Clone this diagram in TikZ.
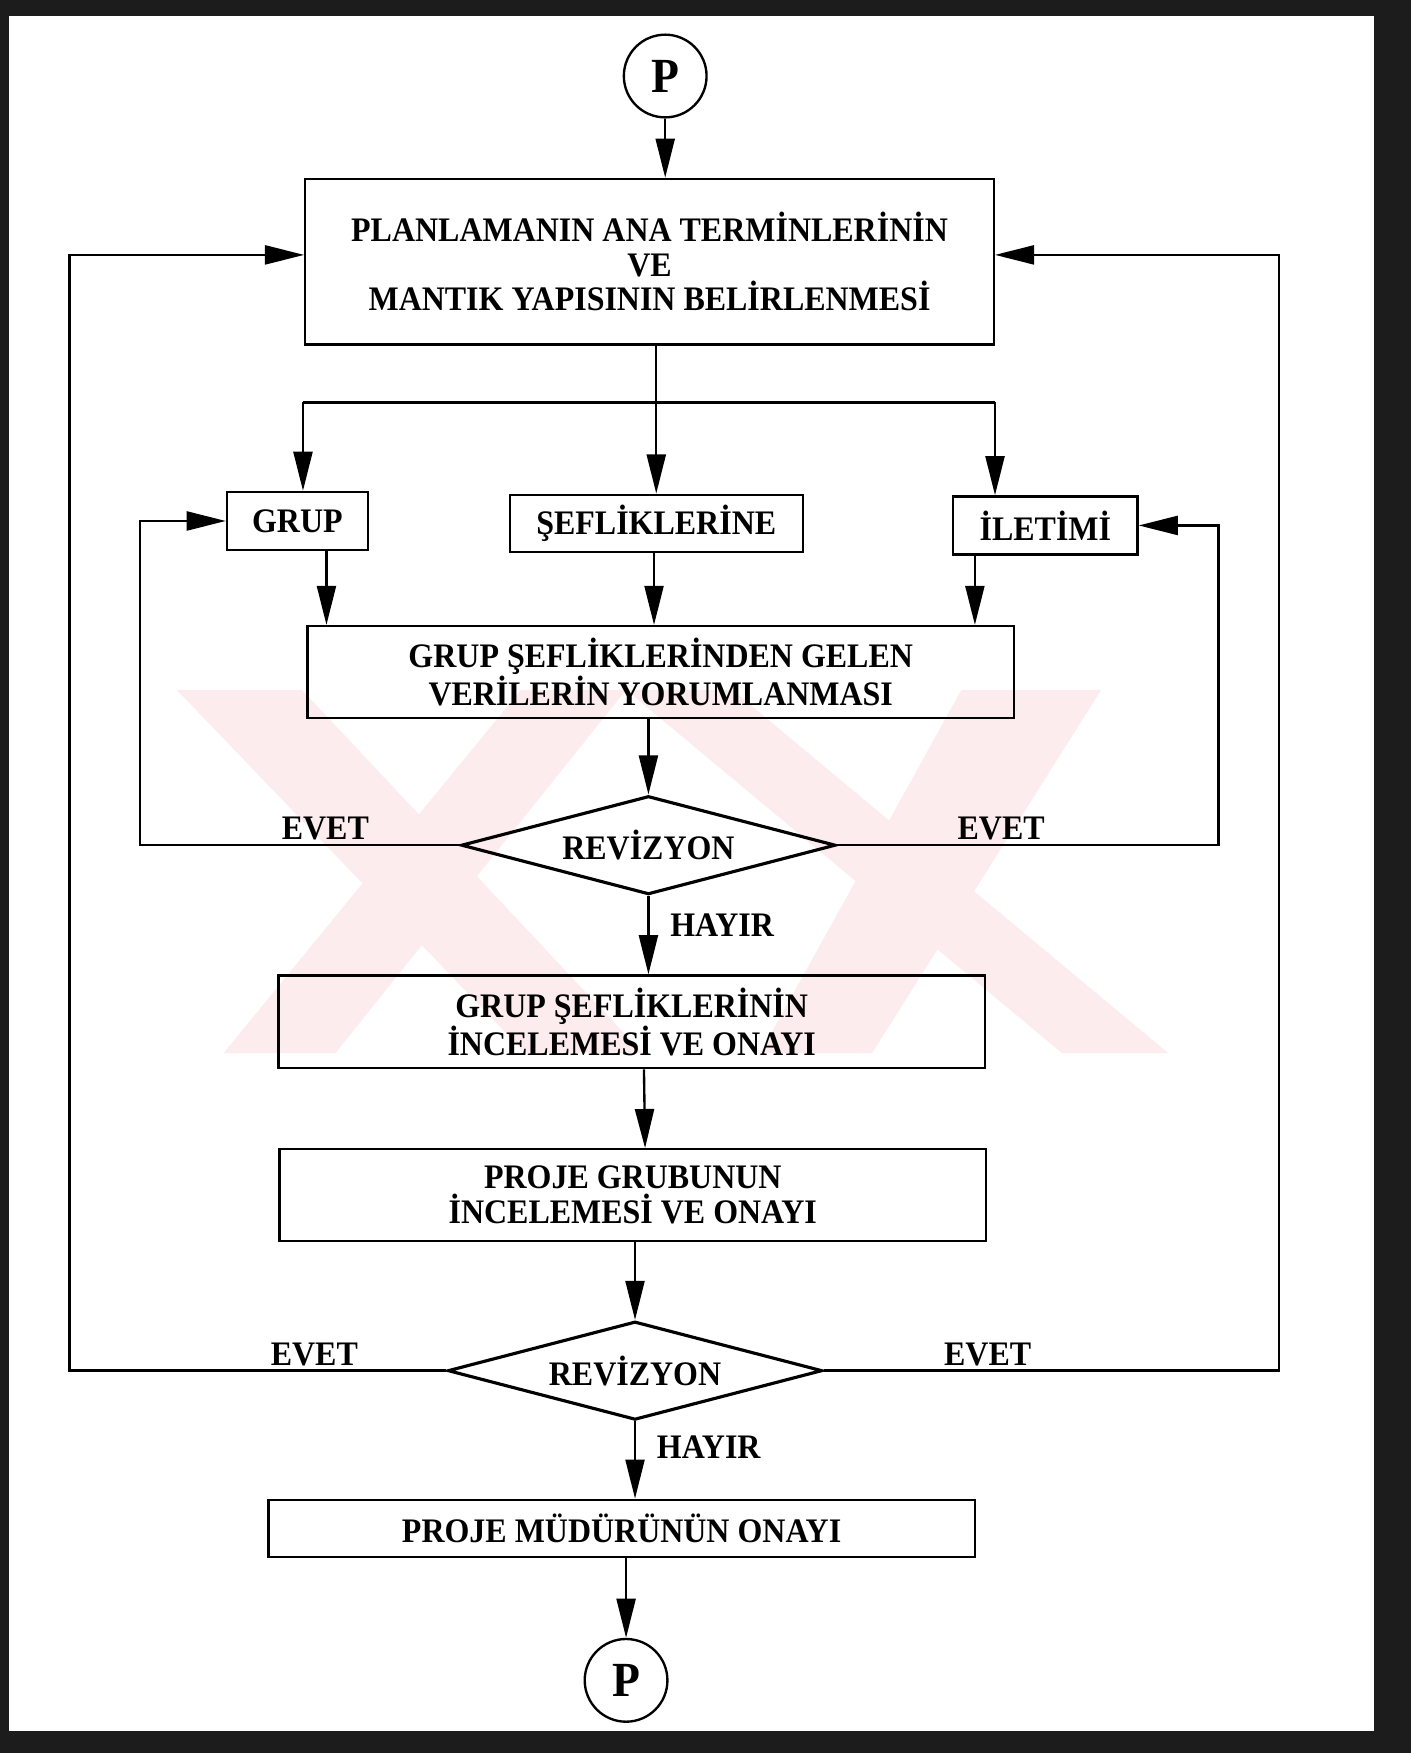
\documentclass[tikz,border=0pt]{standalone}
\usepackage{fontspec}
\setmainfont{Liberation Serif}[FakeStretch=0.93]
\usetikzlibrary{shapes.geometric,arrows.meta,positioning}
\definecolor{wmark}{RGB}{253,236,238}
\definecolor{scanblack}{RGB}{28,28,28}
\begin{document}
\begin{tikzpicture}[x=0.02cm,y=-0.02cm,
    box/.style={draw,line width=1.2pt,align=center,inner sep=0pt,
      font=\bfseries\fontsize{17.5}{17.6}\selectfont},
    rev/.style={box,diamond,aspect=3.8,line width=1.6pt,minimum width=6.7cm,minimum height=1.76cm},
    term/.style={box,circle,minimum size=1.48cm,font=\bfseries\fontsize{25}{25}\selectfont},
    lbl/.style={font=\bfseries\fontsize{17.5}{17.6}\selectfont,inner sep=2pt},
    arr/.style={line width=1.2pt,-{Triangle[length=0.7cm,width=0.34cm]}},
    ln/.style={line width=1.2pt}]
  \fill[scanblack] (0,0) rectangle (1262,1568);
  \fill[white] (8,14) rectangle (1229,1548);
  \useasboundingbox (0,0) rectangle (1262,1568);
  \fill[wmark] (158,617) -- (270,617) -- (575,942) -- (470,942) -- cycle;
  \fill[wmark] (466,617) -- (560,617) -- (300,942) -- (200,942) -- cycle;
  \fill[wmark] (560,617) -- (655,617) -- (1045,942) -- (950,942) -- cycle;
  \fill[wmark] (860,617) -- (985,617) -- (780,942) -- (680,942) -- cycle;
  \node[term] (ptop) at (595,68) {P};
  \node[box,minimum width=12.32cm,minimum height=2.96cm] (plan) at (581,234)
    {PLANLAMANIN ANA TERMİNLERİNİN\\VE\\MANTIK YAPISININ BELİRLENMESİ};
  \node[box,minimum width=2.52cm,minimum height=1.04cm] (grup) at (266,466) {GRUP};
  \node[box,minimum width=5.24cm,minimum height=1.02cm] (sef) at (587,468) {ŞEFLİKLERİNE};
  \node[box,minimum width=3.3cm,minimum height=1.04cm] (ilet) at (935,470) {İLETİMİ};
  \node[box,minimum width=12.64cm,minimum height=1.64cm] (yorum) at (591,601)
    {GRUP ŞEFLİKLERİNDEN GELEN\\VERİLERİN YORUMLANMASI};
  \node[rev] (rev1) at (580,756) {REVİZYON};
  \node[box,minimum width=12.64cm,minimum height=1.66cm] (gonay) at (565,914)
    {GRUP ŞEFLİKLERİNİN\\İNCELEMESİ VE ONAYI};
  \node[box,minimum width=12.64cm,minimum height=1.64cm] (ponay) at (566,1069)
    {PROJE GRUBUNUN\\İNCELEMESİ VE ONAYI};
  \node[rev] (rev2) at (568,1226) {REVİZYON};
  \node[box,minimum width=12.64cm,minimum height=1.02cm] (mudur) at (556,1367)
    {PROJE MÜDÜRÜNÜN ONAYI};
  \node[term] (pbot) at (560,1503) {P};
  \coordinate (busL) at (271,360); \coordinate (busR) at (890,360);
  \coordinate (g1) at (292,0); \coordinate (s1) at (585,0); \coordinate (i1) at (872,0);
  \draw[arr] (ptop) -- (ptop |- plan.north);
  \draw[ln] (busL) -- (busR);
  \draw[arr] (plan.south -| sef.north) -- (sef.north);
  \draw[arr] (busL) -- (busL |- grup.north);
  \draw[arr] (busR) -- (busR |- ilet.north);
  \foreach \c/\n in {g1/grup,s1/sef,i1/ilet}
    \draw[arr] (\c |- \n.south) -- (\c |- yorum.north);
  \draw[arr] (yorum.south -| rev1.north) -- (rev1.north);
  \draw[arr] (rev1.west) -- node[lbl,above,pos=0.42] {EVET} ++(-286,0) |- (grup.west);
  \draw[arr] (rev1.east) -- node[lbl,above,pos=0.43] {EVET} ++(341,0) |- (ilet.east);
  \draw[arr] (rev1.south) -- node[lbl,right=0.3cm,pos=0.37] {HAYIR} (rev1.south |- gonay.north);
  \draw[arr] ([xshift=0.22cm]gonay.south) -- ([xshift=0.22cm]ponay.north);
  \draw[arr] (ponay.south -| rev2.north) -- (rev2.north);
  \draw[arr] (rev2.west) -- node[lbl,above,pos=0.35] {EVET} ++(-337,0) |- ([yshift=0.12cm]plan.west);
  \draw[arr] (rev2.east) -- node[lbl,above,pos=0.36] {EVET} ++(407,0) |- ([yshift=0.12cm]plan.east);
  \draw[arr] (rev2.south) -- node[lbl,right=0.3cm,pos=0.33] {HAYIR} (rev2.south |- mudur.north);
  \draw[arr] (mudur.south -| pbot) -- (pbot);
\end{tikzpicture}
\end{document}
